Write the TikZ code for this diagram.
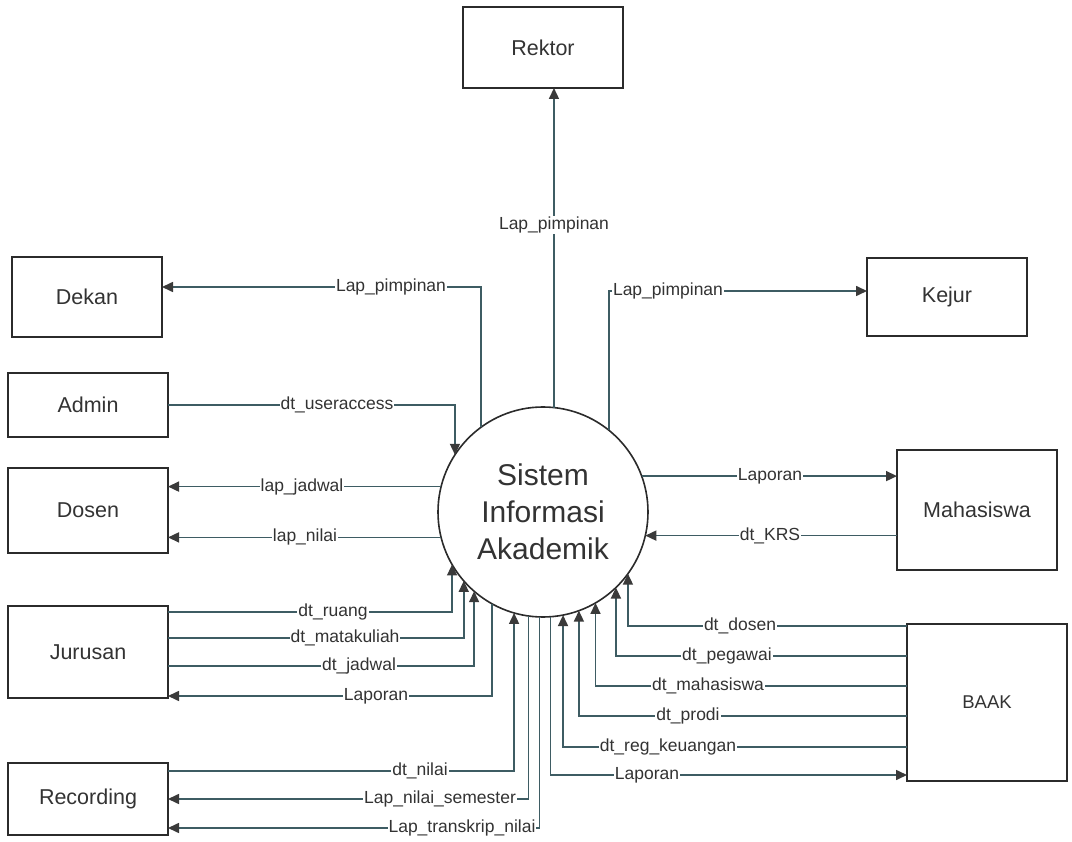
\documentclass[tikz,border=0pt]{standalone}
\usepackage{fontspec}
\setmainfont{Liberation Sans}
\usetikzlibrary{arrows.meta}
\definecolor{linec}{HTML}{3E5C63}
\definecolor{boxc}{HTML}{2B2B2B}
\definecolor{txtc}{HTML}{333333}
\definecolor{tipc}{HTML}{3A3A3A}
\begin{document}
\begin{tikzpicture}[x=1pt,y=-1pt,
  ent/.style={draw=boxc,line width=1.6pt,rectangle,inner sep=0pt,outer sep=0pt,text=txtc,font=\fontsize{21.5}{25}\selectfont},
  proc/.style={draw=boxc,line width=1.6pt,circle,minimum size=210pt,inner sep=0pt,outer sep=0pt,text=txtc,align=center,font=\fontsize{30}{37}\selectfont},
  flow/.style={draw=linec,line width=1.6pt,arrows={-Triangle[length=11pt,width=10pt,color=tipc]}},
  rflow/.style={draw=linec,line width=1.6pt,arrows={Triangle[length=11pt,width=10pt,color=tipc]-}},
  lab/.style={fill=white,inner sep=1pt,text=txtc,font=\fontsize{17.5}{20}\selectfont}]
\useasboundingbox (0,0) rectangle (1072,842);
\fill[white] (0,0) rectangle (1072,842);

% process
\node[proc] (c) at (543,512) {Sistem\\Informasi\\Akademik};

% entities
\node[ent,minimum width=160pt,minimum height=81pt] (rek) at (543,47.5) {Rektor};
\node[ent,minimum width=150pt,minimum height=80pt] (dek) at (87,297) {Dekan};
\node[ent,minimum width=160pt,minimum height=64pt] (adm) at (88,405) {Admin};
\node[ent,minimum width=160pt,minimum height=85pt] (dos) at (88,510.5) {Dosen};
\node[ent,minimum width=160pt,minimum height=92pt] (jur) at (88,652) {Jurusan};
\node[ent,minimum width=160pt,minimum height=72pt] (rec) at (88,799) {Recording};
\node[ent,minimum width=160pt,minimum height=78pt] (kej) at (947,297) {Kejur};
\node[ent,minimum width=160pt,minimum height=120pt] (mah) at (977,510) {Mahasiswa};
\node[ent,minimum width=160pt,minimum height=157pt,font=\fontsize{18.5}{22}\selectfont] (baak) at (987,702.5) {BAAK};

% top
\draw[flow] (c.84) -- (c.84 |- rek.south);
\node[lab] at (554,225) {Lap\_pimpinan};

\draw[flow] (c.126.2) |- (dek.east |- 0,287);
\node[lab] at (391,287) {Lap\_pimpinan};

\draw[rflow] (c.147.9) |- (adm.east |- 0,405);
\node[lab] at (337,405) {dt\_useraccess};

\draw[flow] (c.51.8) |- (kej.west |- 0,291);
\node[lab] at (668,291) {Lap\_pimpinan};

% sides
\draw[flow] (c.166.2) -- (c.166.2 -| dos.east);
\node[lab] at (302,487) {lap\_jadwal};
\draw[flow] (c.-166.2) -- (c.-166.2 -| dos.east);
\node[lab] at (305,537) {lap\_nilai};

\draw[flow] (c.20) -- (c.20 -| mah.west);
\node[lab] at (770,476) {Laporan};
\draw[rflow] (c.-13.2) -- (c.-13.2 -| mah.west);
\node[lab] at (770,536) {dt\_KRS};

% Jurusan
\draw[rflow] (c.-150.1) |- (jur.east |- 0,612);
\node[lab] at (333,612) {dt\_ruang};
\draw[rflow] (c.-139.6) |- (jur.east |- 0,638);
\node[lab] at (345,638) {dt\_matakuliah};
\draw[rflow] (c.-131.8) |- (jur.east |- 0,666);
\node[lab] at (359,666) {dt\_jadwal};
\draw[flow] (c.-119.7) |- (jur.east |- 0,696);
\node[lab] at (376,696) {Laporan};

% Recording
\draw[rflow] (c.-106) |- (rec.east |- 0,771);
\node[lab] at (420,771) {dt\_nilai};
\draw[flow] (c.-98.8) |- (rec.east |- 0,799);
\node[lab] at (440,799) {Lap\_nilai\_semester};
\draw[flow] (c.-92.7) |- (rec.east |- 0,828);
\node[lab] at (462,828) {Lap\_transkrip\_nilai};

% BAAK
\draw[rflow] (c.-36.9) |- (baak.west |- 0,626);
\node[lab] at (740,626) {dt\_dosen};
\draw[rflow] (c.-46) |- (baak.west |- 0,656);
\node[lab] at (727,656) {dt\_pegawai};
\draw[rflow] (c.-60.3) |- (baak.west |- 0,686);
\node[lab] at (708,686) {dt\_mahasiswa};
\draw[rflow] (c.-70.5) |- (baak.west |- 0,716);
\node[lab] at (688,716) {dt\_prodi};
\draw[rflow] (c.-79.6) |- (baak.west |- 0,747);
\node[lab] at (668,747) {dt\_reg\_keuangan};
\draw[flow] (c.-86.2) |- (baak.west |- 0,775);
\node[lab] at (647,775) {Laporan};
\end{tikzpicture}
\end{document}
